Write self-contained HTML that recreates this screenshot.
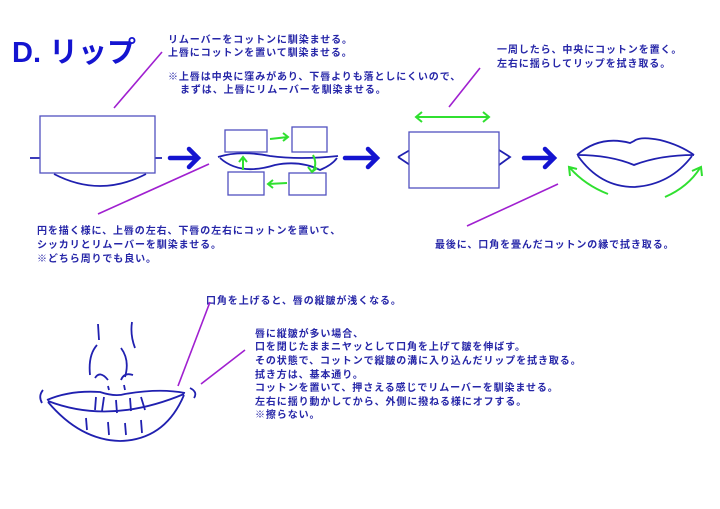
<!DOCTYPE html>
<html><head><meta charset="utf-8"><style>
body{margin:0;background:#fff;width:720px;height:509px;overflow:hidden}
svg{display:block}
text{font-family:"Liberation Sans","Noto Sans CJK JP",sans-serif;font-weight:bold;fill:#2626a8;font-size:10px;letter-spacing:0.9px}
</style></head><body>
<svg width="720" height="509" viewBox="0 0 720 509" xmlns="http://www.w3.org/2000/svg">
<text x="12" y="62" style="font-size:29px;fill:#1414d0;letter-spacing:0px">D. リップ</text>
<text x="168" y="43">リムーバーをコットンに馴染ませる。</text>
<text x="168" y="56">上唇にコットンを置いて馴染ませる。</text>
<text x="168" y="80">※上唇は中央に窪みがあり、下唇よりも落としにくいので、</text>
<text x="180" y="93">まずは、上唇にリムーバーを馴染ませる。</text>
<text x="497" y="53">一周したら、中央にコットンを置く。</text>
<text x="497" y="67">左右に揺らしてリップを拭き取る。</text>
<text x="37" y="234">円を描く様に、上唇の左右、下唇の左右にコットンを置いて、</text>
<text x="37" y="248">シッカリとリムーバーを馴染ませる。</text>
<text x="37" y="262">※どちら周りでも良い。</text>
<text x="435" y="248">最後に、口角を畳んだコットンの縁で拭き取る。</text>
<text x="206" y="304">口角を上げると、唇の縦皺が浅くなる。</text>
<text x="255" y="337">唇に縦皺が多い場合、</text>
<text x="255" y="350">口を閉じたままニヤッとして口角を上げて皺を伸ばす。</text>
<text x="255" y="364">その状態で、コットンで縦皺の溝に入り込んだリップを拭き取る。</text>
<text x="255" y="378">拭き方は、基本通り。</text>
<text x="255" y="391">コットンを置いて、押さえる感じでリムーバーを馴染ませる。</text>
<text x="255" y="405">左右に揺り動かしてから、外側に撥ねる様にオフする。</text>
<text x="255" y="418">※擦らない。</text>

<g stroke="#a020d0" stroke-width="1.6" fill="none">
<line x1="114" y1="108" x2="162" y2="52"/>
<line x1="98" y1="214" x2="209" y2="164"/>
<line x1="449" y1="107" x2="480" y2="68"/>
<line x1="467" y1="226" x2="558" y2="184"/>
<line x1="178" y1="386" x2="210" y2="302"/>
<line x1="201" y1="384" x2="245" y2="350"/>
</g>

<g stroke="#2020b0" stroke-width="1.8" fill="none">
<path d="M30 158 L40 158 M155 158 L162 158"/>
<path d="M54 174 Q100 198 146 174"/>
<rect x="40" y="116" width="115" height="57" stroke="#5050c0" stroke-width="1.3" fill="#fff"/>
<path d="M218 157 Q240 150 270 156 Q300 160 338 156"/>
<path d="M220 158 Q240 176 275 165 Q300 160 320 170 Q332 165 337 158"/>
<rect x="225" y="130" width="42" height="22" stroke="#5050c0" stroke-width="1.3" fill="#fff"/>
<rect x="292" y="127" width="35" height="25" stroke="#5050c0" stroke-width="1.3" fill="#fff"/>
<rect x="228" y="172" width="36" height="23" stroke="#5050c0" stroke-width="1.3" fill="#fff"/>
<rect x="289" y="173" width="37" height="22" stroke="#5050c0" stroke-width="1.3" fill="#fff"/>
<path d="M398 157 L410 150 M398 157 L410 165 M499 150 L510 157 L499 165"/>
<rect x="409" y="132" width="90" height="56" stroke="#5050c0" stroke-width="1.3" fill="#fff"/>
<path d="M577 155 Q600 135 630 143 L634 141 Q640 136 660 140 Q680 145 694 155"/>
<path d="M577 155 Q610 155 634 165 Q660 155 694 155"/>
<path d="M578 156 Q600 187 634 187 Q670 185 692 156"/>
<path d="M98 324 L99 340 M132 322 Q130 335 135 348"/>
<path d="M97 345 Q88 355 90 375 M121 348 Q130 360 125 377"/>
<path d="M95 378 Q100 370 108 380 M121 380 Q124 372 133 375"/>
<path d="M108 386 L109 390 M124 385 L125 390"/>
<path d="M47 400 Q70 390 100 392 Q115 397 125 394 Q160 388 185 393"/>
<path d="M48 401 Q110 425 184 394"/>
<path d="M48 402 Q80 440 120 441 Q165 440 184 395"/>
<path d="M43 390 Q38 396 42 403 M190 388 Q198 392 194 398"/>
<path d="M96 397 L95 410 M104 397 L102 411 M116 400 L117 413 M130 398 L131 411 M141 397 L145 410"/>
<path d="M86 418 L87 430 M108 422 L109 435 M125 423 L126 435 M141 420 L142 433"/>
</g>

<g stroke="#1414d0" stroke-width="4.5" fill="none" stroke-linecap="round">
<path d="M170 158 L197 158 M189 149 L198 158 L189 167"/>
<path d="M345 158 L376 158 M368 149 L377 158 L368 167"/>
<path d="M524 158 L553 158 M545 149 L554 158 L545 167"/>
</g>

<g stroke="#30e030" stroke-width="2" fill="none">
<path d="M270 139 L288 137 M283 133 L288 137 L283 141"/>
<path d="M313 155 Q318 165 312 172 M308 167 L312 172 L317 168"/>
<path d="M287 183 L268 184 M273 180 L268 184 L273 188"/>
<path d="M243 170 L243 158 M239 162 L243 157 L247 162"/>
<path d="M417 117 L488 117 M422 112 L416 117 L422 122 M483 112 L489 117 L483 122"/>
<path d="M608 194 Q585 185 570 168 M570 176 L569 167 L577 169"/>
<path d="M665 197 Q688 187 700 168 M692 171 L701 167 L702 176"/>
</g>
</svg>
</body></html>
